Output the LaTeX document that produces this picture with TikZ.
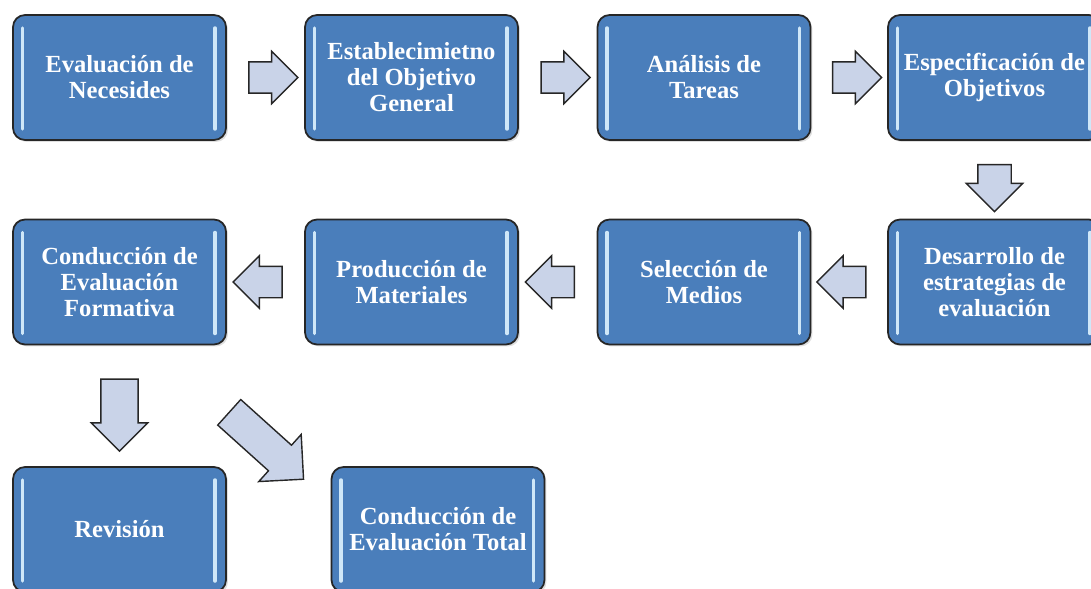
\documentclass[tikz,border=0pt]{standalone}
\usepackage{fontspec}
\setmainfont{Liberation Serif}
\usetikzlibrary{shapes.arrows,calc,shadows}
\definecolor{boxblue}{HTML}{4A7EBB}
\definecolor{boxline}{HTML}{262626}
\definecolor{hilite}{HTML}{CFE7F8}
\definecolor{arrowfill}{HTML}{C9D3E8}
\tikzset{
  stage/.style={rounded corners=0.24cm, draw=boxline, line width=1pt,
    fill=boxblue, minimum width=4.26cm, minimum height=2.5cm,
    text=white, align=center, inner sep=0pt,
    font=\fontsize{14}{14.8}\selectfont\bfseries,
    drop shadow={opacity=0.25, shadow xshift=0.04cm, shadow yshift=-0.04cm},
    path picture={
      \draw[hilite, line width=2pt, line cap=round]
        ([xshift=0.19cm, yshift=-0.26cm]path picture bounding box.north west)
        -- ([xshift=0.19cm, yshift=0.22cm]path picture bounding box.south west)
        ([xshift=-0.22cm, yshift=-0.26cm]path picture bounding box.north east)
        -- ([xshift=-0.22cm, yshift=0.22cm]path picture bounding box.south east);
    }},
  blockarrow/.style={single arrow, draw=boxline, fill=arrowfill,
    line width=0.8pt, inner xsep=0pt, inner ysep=0.3cm,
    single arrow head extend=0.21cm, minimum height=0.98cm}
}
\begin{document}
\begin{tikzpicture}[x=0.02cm, y=-0.02cm]
    \useasboundingbox (0, 0) rectangle (1091, 588);
    \clip (0, 0) rectangle (1091, 588);
    % first row
    \node [stage] (EN) at (119.5, 77.5) {Evaluación de\\Necesides};
    \node [stage] (OG) at (411.5, 77.5) {Establecimietno\\del Objetivo\\General};
    \node [stage] (AT) at (704, 77.5) {Análisis de\\Tareas};
    \node [stage] (EO) at (994.5, 77.5) {Especificación de\\Objetivos};
    % second row
    \node [stage] (DE) at (994.5, 282) {Desarrollo de\\estrategias de\\evaluación};
    \node [stage] (SM) at (704, 282) {Selección de\\Medios};
    \node [stage] (PM) at (411.5, 282) {Producción de\\Materiales};
    \node [stage] (EF) at (119.5, 282) {Conducción de\\Evaluación\\Formativa};
    % third row
    \node [stage] (RV) at (119.5, 529.5) {Revisión};
    \node [stage] (ET) at (438, 529.5) {Conducción de\\Evaluación Total};
    % arrows
    \node [blockarrow] (A1) at ($(EN.east)!0.5!(OG.west)$) {};
    \node [blockarrow] (A2) at ($(OG.east)!0.5!(AT.west)$) {};
    \node [blockarrow] (A3) at ($(AT.east)!0.5!(EO.west)$) {};
    \node [blockarrow, rotate=-90, inner ysep=0.32cm, single arrow head extend=0.23cm,
      minimum height=0.94cm] (A4) at ($(EO.south)!0.5!(DE.north)$) {};
    \node [blockarrow, rotate=180] (A5) at ($(DE.west)!0.5!(SM.east)$) {};
    \node [blockarrow, rotate=180] (A6) at ($(SM.west)!0.5!(PM.east)$) {};
    \node [blockarrow, rotate=180] (A7) at ($(PM.west)!0.5!(EF.east)$) {};
    \node [blockarrow, rotate=-90, inner ysep=0.36cm, single arrow head extend=0.19cm,
      minimum height=1.44cm] (A8) at ($(EF.south)!0.5!(RV.north)$) {};
    \node [blockarrow, rotate=-42, inner ysep=0.33cm, single arrow head extend=0.29cm,
      minimum height=2.0cm] (A9) at (260, 440) {};
\end{tikzpicture}
\end{document}
